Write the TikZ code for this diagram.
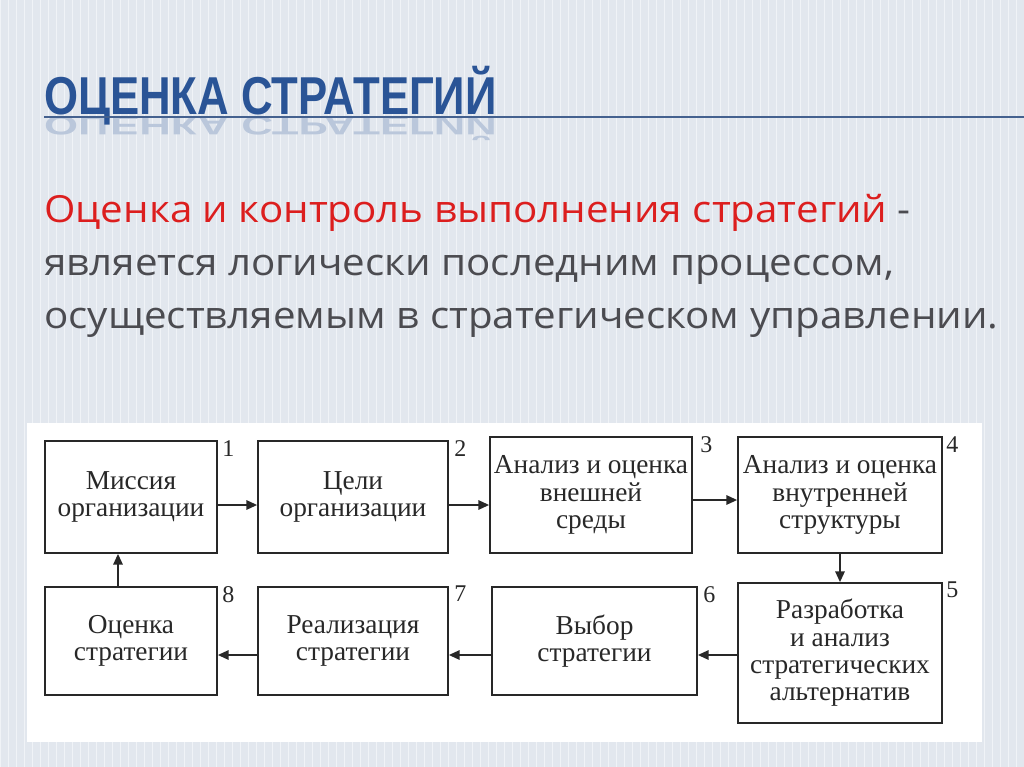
\documentclass[tikz,border=0pt]{standalone}
\usepackage{fontspec}
\setmainfont{Liberation Serif}
\newfontfamily\bodyf{Open Sans}
\newfontfamily\titlef{Liberation Sans}
\usetikzlibrary{arrows.meta}
\definecolor{bg}{RGB}{226,231,238}
\definecolor{gridc}{RGB}{240,243,247}
\definecolor{ttl}{RGB}{42,84,150}
\definecolor{txtred}{RGB}{220,30,30}
\definecolor{txtgrey}{RGB}{75,75,80}
\definecolor{ink}{RGB}{40,40,40}
\begin{document}
\begin{tikzpicture}[x=0.75pt,y=-0.75pt,
  blk/.style={draw=ink,line width=1.3pt,fill=white,align=center,font=\fontsize{20.5}{20.5}\selectfont,text=ink,inner sep=0pt},
  num/.style={font=\fontsize{18}{18}\selectfont,text=ink,anchor=north west,inner sep=0pt},
  arr/.style={draw=ink,line width=1.3pt,-{Triangle[length=8pt,width=7pt]}}]
\useasboundingbox (0,0) rectangle (1024,767);
\fill[bg] (0,0) rectangle (1024,767);
\draw[gridc,line width=0.6pt] (0,0) grid[step=8] (1024,767);
% title
\node[anchor=base west,inner sep=0pt,text=ttl!22!bg,font=\titlef\bfseries\fontsize{40}{40}\selectfont,xscale=0.82,yscale=-0.5] (refl) at (44,116) {ОЦЕНКА СТРАТЕГИЙ};
\node[anchor=base west,inner sep=0pt,text=ttl,font=\titlef\bfseries\fontsize{40}{40}\selectfont,xscale=0.82] (title) at (44,114) {ОЦЕНКА СТРАТЕГИЙ};
\draw[ttl!70!gray,line width=1.2pt] (44,117) -- (1024,117);
% body text
\node[anchor=base west,inner sep=0pt,font=\bodyf\fontsize{28}{28}\selectfont,text=txtgrey,xscale=1.08] (l1) at (44,222) {\textcolor{txtred}{Оценка и контроль выполнения стратегий} -};
\node[anchor=base west,inner sep=0pt,font=\bodyf\fontsize{28}{28}\selectfont,text=txtgrey,xscale=1.08] (l2) at (44,275) {является логически последним процессом,};
\node[anchor=base west,inner sep=0pt,font=\bodyf\fontsize{28}{28}\selectfont,text=txtgrey,xscale=1.08] (l3) at (44,328) {осуществляемым в стратегическом управлении.};
% diagram panel
\fill[white] (27,423) rectangle (982,742);
\node[blk,minimum width=129pt,minimum height=84pt] (b1) at (131,497) {Миссия\\организации};
\node[blk,minimum width=142.5pt,minimum height=84pt] (b2) at (353,497) {Цели\\организации};
\node[blk,minimum width=151.5pt,minimum height=87pt] (b3) at (591,495) {Анализ и оценка\\внешней\\среды};
\node[blk,minimum width=153pt,minimum height=87pt] (b4) at (840,495) {Анализ и оценка\\внутренней\\структуры};
\node[blk,minimum width=153pt,minimum height=105pt] (b5) at (840,653) {Разработка\\и анализ\\стратегических\\альтернатив};
\node[blk,minimum width=153.75pt,minimum height=81pt] (b6) at (594.5,641) {Выбор\\стратегии};
\node[blk,minimum width=142.5pt,minimum height=81pt] (b7) at (353,641) {Реализация\\стратегии};
\node[blk,minimum width=129pt,minimum height=81pt] (b8) at (131,641) {Оценка\\стратегии};
\node[num] (n1) at (222,440) {1};
\node[num] (n2) at (454,440) {2};
\node[num] (n3) at (700,436) {3};
\node[num] (n4) at (946,436) {4};
\node[num] (n5) at (946,582) {5};
\node[num] (n6) at (703,586) {6};
\node[num] (n7) at (454,586) {7};
\node[num] (n8) at (222,586) {8};
\draw[arr] (b1.east |- 0,505) -- (b2.west |- 0,505);
\draw[arr] (b2.east |- 0,505) -- (b3.west |- 0,505);
\draw[arr] (b3.east |- 0,500) -- (b4.west |- 0,500);
\draw[arr] (b4.south) -- (b5.north);
\draw[arr] (b5.west |- 0,655) -- (b6.east |- 0,655);
\draw[arr] (b6.west |- 0,655) -- (b7.east |- 0,655);
\draw[arr] (b7.west |- 0,655) -- (b8.east |- 0,655);
\draw[arr] (b8.north -| 118,0) -- (b1.south -| 118,0);
\end{tikzpicture}
\end{document}
